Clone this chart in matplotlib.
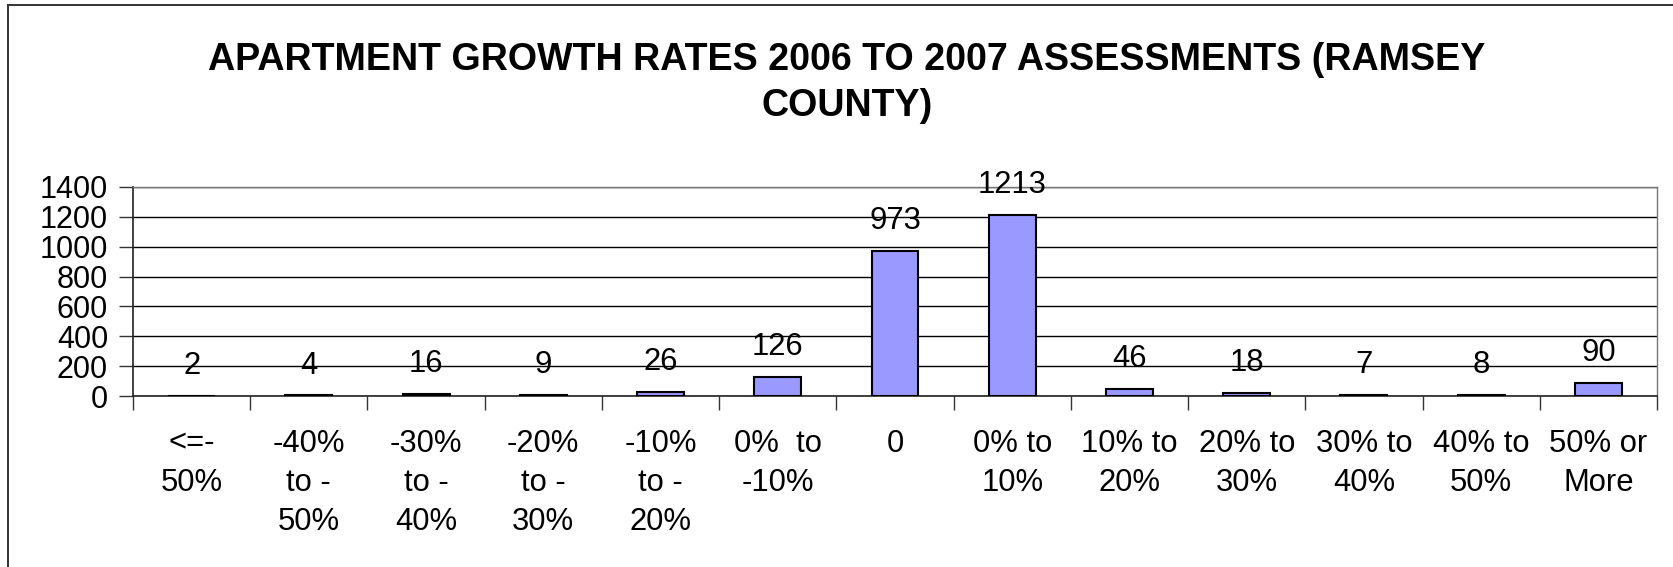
import matplotlib
matplotlib.use("Agg")
import matplotlib.pyplot as plt
from matplotlib.lines import Line2D
import numpy as np

categories = ["<=-\n50%", "-40%\nto -\n50%", "-30%\nto -\n40%", "-20%\nto -\n30%",
              "-10%\nto -\n20%", "0%  to\n-10%", "0", "0% to\n10%", "10% to\n20%",
              "20% to\n30%", "30% to\n40%", "40% to\n50%", "50% or\nMore"]
values = [2, 4, 16, 9, 26, 126, 973, 1213, 46, 18, 7, 8, 90]
y_ticks = [0, 200, 400, 600, 800, 1000, 1200, 1400]
title_lines = ["APARTMENT GROWTH RATES 2006 TO 2007 ASSESSMENTS (RAMSEY", "COUNTY)"]

plt.rcParams['font.family'] = ['Liberation Sans', 'DejaVu Sans']

W, H = 1674, 567
fig = plt.figure(figsize=(W / 100, H / 100), dpi=100)
fig.patch.set_facecolor('white')

# outer chart frame (only left and top visible)
fig.add_artist(Line2D([8 / W, 8 / W], [0, 1 - 5 / H], transform=fig.transFigure,
                      color='#333333', lw=1.4))
fig.add_artist(Line2D([8 / W, 1], [1 - 5 / H, 1 - 5 / H], transform=fig.transFigure,
                      color='#333333', lw=1.4))

ax = fig.add_axes([133 / W, 1 - 396 / H, (1657 - 133) / W, (396 - 187) / H])

x = np.arange(len(values))
ax.bar(x, values, width=0.4, color='#9999FF', edgecolor='black', linewidth=1.5, zorder=3)

for xi, v in zip(x, values):
    ax.annotate(str(v), (xi, v), xytext=(0, 21.5), textcoords='offset points',
                ha='center', va='center', fontsize=22.3, zorder=4)

ax.set_xlim(-0.5, len(values) - 0.5)
ax.set_ylim(0, 1400)
ax.set_yticks(y_ticks)
ax.set_yticklabels([str(t) for t in y_ticks], fontsize=22)
ax.yaxis.grid(True, color='black', linewidth=1.0, zorder=0)
ax.set_axisbelow(True)

# ticks at category boundaries, labels at centres
ax.set_xticks(np.arange(-0.5, len(values), 1.0))
ax.set_xticklabels([])
ax.set_xticks(x, minor=True)
ax.set_xticklabels(categories, minor=True, fontsize=22.3, linespacing=1.39,
                   va='top', ha='center', multialignment='center')
ax.tick_params(axis='x', which='major', length=10, width=1.0, color='#333333', direction='out')
ax.tick_params(axis='x', which='minor', length=0, pad=23.5)
ax.tick_params(axis='y', length=10, width=1.0, color='#333333', pad=8)

for s in ['left', 'bottom']:
    ax.spines[s].set_color('#222222')
    ax.spines[s].set_linewidth(1.2)
for s in ['right', 'top']:
    ax.spines[s].set_color('#777777')
    ax.spines[s].set_linewidth(1.0)

fig.text(847 / W, 1 - 69.5 / H, title_lines[0], ha='center', va='baseline',
         fontsize=27.1, fontweight='bold')
fig.text(847 / W, 1 - 116.5 / H, title_lines[1], ha='center', va='baseline',
         fontsize=27.1, fontweight='bold')

fig.savefig('out.png', dpi=100, facecolor='white')
